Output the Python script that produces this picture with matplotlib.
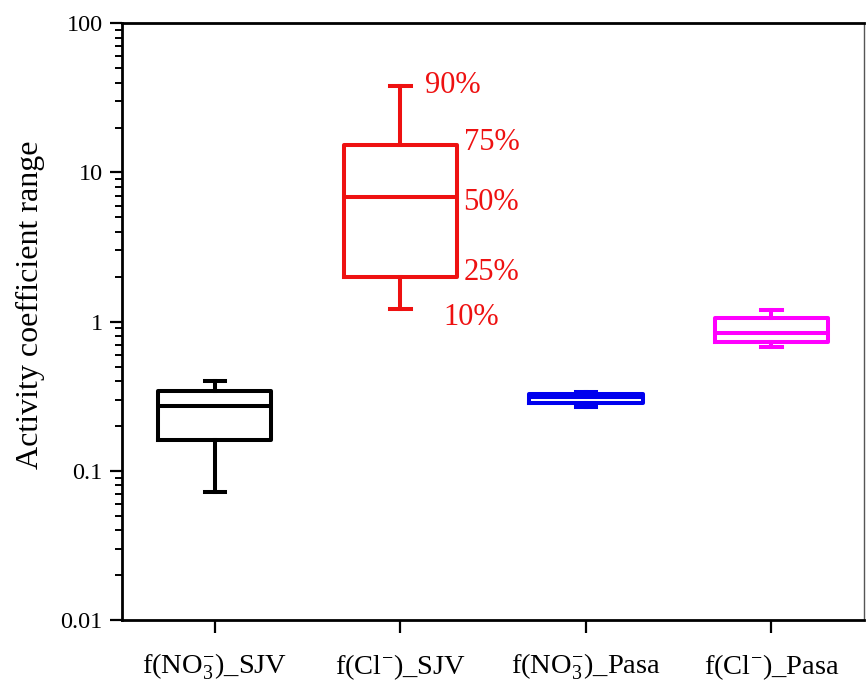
import matplotlib
matplotlib.use("Agg")
import matplotlib.pyplot as plt
from matplotlib.ticker import LogLocator, FuncFormatter, NullFormatter

plt.rcParams['font.family'] = ['Liberation Serif', 'DejaVu Serif']
plt.rcParams['mathtext.fontset'] = 'custom'
plt.rcParams['mathtext.rm'] = 'Liberation Serif'
plt.rcParams['mathtext.it'] = 'Liberation Serif:italic'

categories = ["f(NO$_3^{-}$)_SJV", "f(Cl$^{-}$)_SJV", "f(NO$_3^{-}$)_Pasa", "f(Cl$^{-}$)_Pasa"]
p10 = [0.072, 1.22, 0.266, 0.68]
p25 = [0.16, 2.0, 0.283, 0.725]
p50 = [0.27, 6.8, 0.31, 0.84]
p75 = [0.345, 15.3, 0.325, 1.06]
p90 = [0.40, 38.0, 0.335, 1.20]
colors = ["black", "#ee1111", "#0000ee", "#ff00ff"]
pct_labels = ["90%", "75%", "50%", "25%", "10%"]

fig = plt.figure(figsize=(8.66, 6.85), dpi=100)
ax = fig.add_axes([0.141, 0.095, 0.857, 0.871])

lw = 2.9
for i in range(len(categories)):
    st = [dict(med=p50[i], q1=p25[i], q3=p75[i], whislo=p10[i], whishi=p90[i], fliers=[])]
    c = colors[i]
    ax.bxp(st, positions=[i + 1], widths=0.61, capwidths=0.11, showfliers=False,
           boxprops=dict(color=c, linewidth=lw),
           medianprops=dict(color=c, linewidth=lw),
           whiskerprops=dict(color=c, linewidth=lw),
           capprops=dict(color=c, linewidth=lw))

# percentile annotations for the red box
r = 1
xc = r + 1
fs_pct = 22
ax.text(xc + 0.13, p90[r], pct_labels[0], color=colors[r], fontsize=fs_pct, va='center', ha='left')
ax.text(xc + 0.34, p75[r] * 1.04, pct_labels[1], color=colors[r], fontsize=fs_pct, va='center', ha='left')
ax.text(xc + 0.34, p50[r] * 0.93, pct_labels[2], color=colors[r], fontsize=fs_pct, va='center', ha='left')
ax.text(xc + 0.34, p25[r] * 1.06, pct_labels[3], color=colors[r], fontsize=fs_pct, va='center', ha='left')
ax.text(xc + 0.23, p10[r] * 0.88, pct_labels[4], color=colors[r], fontsize=fs_pct, va='center', ha='left')

ax.set_yscale('log')
ax.set_ylim(0.01, 100)
ax.set_xlim(0.5, 4.5)
ax.yaxis.set_major_locator(LogLocator(base=10, numticks=10))
ax.yaxis.set_minor_locator(LogLocator(base=10, subs=range(2, 10), numticks=20))
ax.yaxis.set_major_formatter(FuncFormatter(lambda v, p: f"{v:g}"))
ax.yaxis.set_minor_formatter(NullFormatter())
ax.set_xticks(range(1, len(categories) + 1))
ax.set_xticklabels(categories, fontsize=20.5)
ax.tick_params(axis='y', which='major', labelsize=17.5, length=9, width=1.6, direction='out', pad=5)
ax.tick_params(axis='y', which='minor', length=5, width=1.4, direction='out')
ax.tick_params(axis='x', which='major', length=9, width=1.6, direction='out', pad=14)
ax.set_ylabel("Activity coefficient range", fontsize=23)
ax.yaxis.set_label_coords(-0.104, 0.528)

for s in ['left', 'bottom', 'top']:
    ax.spines[s].set_linewidth(2.0)
ax.spines['right'].set_linewidth(1.0)
ax.spines['right'].set_color('#555555')

fig.savefig("out.png", dpi=100)
